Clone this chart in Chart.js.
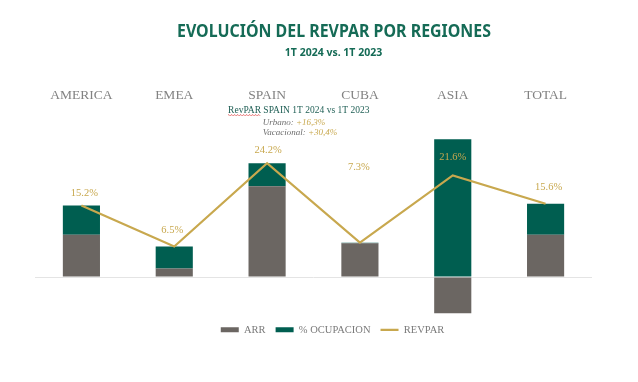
<!DOCTYPE html>
<html><head><meta charset="utf-8">
<script src="https://cdn.jsdelivr.net/npm/chart.js@4"></script>
<style>html,body{margin:0;padding:0;background:#fff}canvas{display:block}</style>
</head><body><canvas id="c" width="638" height="382"></canvas>
<script>
const categories = ['AMERICA', 'EMEA', 'SPAIN', 'CUBA', 'ASIA', 'TOTAL'];
const arrValues = [9.0, 1.8, 19.3, 7.2, -7.7, 9.0];
const occValues = [6.2, 4.7, 4.9, 0.1, 29.3, 6.6];
const revparValues = [15.2, 6.5, 24.2, 7.3, 21.6, 15.6];
const revparLabels = ['15.2%', '6.5%', '24.2%', '7.3%', '21.6%', '15.6%'];
const seriesNames = ['ARR', '% OCUPACION', 'REVPAR'];
const titleText = 'EVOLUCIÓN DEL REVPAR POR REGIONES';
const subtitleText = '1T 2024 vs. 1T 2023';
const noteTitle = 'RevPAR SPAIN 1T 2024 vs 1T 2023';
const noteLines = [['Urbano:', '+16,3%'], ['Vacacional:', '+30,4%']];

const GRAY = '#6b6662', GREEN = '#005e50', GOLD = '#c8a84e', TITLE = '#156b56';
const labelDy = [12, 16, 13, 75, 18, 16];
const labelDx = [3, -2, 1, -1, 0, 3];

function fitText(ctx, text, x, y, maxW) {
  const w = ctx.measureText(text).width;
  const sx = Math.min(1, maxW / w);
  ctx.save(); ctx.translate(x, y); ctx.scale(sx, 1); ctx.fillText(text, 0, 0); ctx.restore();
}

const decor = {
  id: 'decor',
  afterLayout(chart) { chart.legend.left += 19; chart.legend.right += 19; },
  afterDatasetsDraw(chart) {
    const ctx = chart.ctx;
    const meta = chart.getDatasetMeta(2);
    ctx.save();
    ctx.font = '10.5px "Liberation Serif"';
    ctx.fillStyle = GOLD; ctx.textAlign = 'center'; ctx.textBaseline = 'middle';
    meta.data.forEach((pt, i) => ctx.fillText(revparLabels[i], pt.x + labelDx[i], pt.y - labelDy[i]));
    ctx.restore();
  },
  afterDraw(chart) {
    const ctx = chart.ctx;
    ctx.save();
    ctx.fillStyle = TITLE; ctx.textAlign = 'center'; ctx.textBaseline = 'middle';
    ctx.font = 'bold 17px "Noto Sans"';
    fitText(ctx, titleText, 334, 32, 314);
    ctx.font = 'bold 10.5px "Noto Sans"';
    fitText(ctx, subtitleText, 333.5, 53, 107);
    // note under SPAIN
    const xs = chart.scales.x.getPixelForValue(2);
    const left = xs - 39;
    ctx.textAlign = 'left';
    ctx.font = '9.5px "Liberation Serif"';
    ctx.fillStyle = '#1e5e54';
    ctx.fillText(noteTitle, left, 110);
    const rw = ctx.measureText('RevPAR').width;
    ctx.strokeStyle = '#e05050'; ctx.lineWidth = 0.8; ctx.beginPath();
    for (let x = 0; x <= rw; x += 1) { const yy = 115 + (Math.floor(x / 1.5) % 2 ? 0.8 : -0.2); x === 0 ? ctx.moveTo(left + x, yy) : ctx.lineTo(left + x, yy); }
    ctx.stroke();
    ctx.font = 'italic 9px "Liberation Serif"';
    noteLines.forEach((ln, i) => {
      const y = 123 + i * 10;
      const lx = xs - 4.3;
      ctx.fillStyle = '#6f6f6f'; ctx.fillText(ln[0] + ' ', lx, y);
      const w = ctx.measureText(ln[0] + ' ').width;
      ctx.fillStyle = GOLD; ctx.fillText(ln[1], lx + w, y);
    });
    ctx.restore();
  }
};

new Chart(document.getElementById('c'), {
  data: {
    labels: categories,
    datasets: [
      { type: 'bar', label: seriesNames[0], data: arrValues, backgroundColor: GRAY, stack: 'a', order: 2, borderWidth: 0 },
      { type: 'bar', label: seriesNames[1], data: occValues, backgroundColor: GREEN, stack: 'a', order: 3, borderWidth: 0 },
      { type: 'line', label: seriesNames[2], data: revparValues, borderColor: GOLD, backgroundColor: GOLD, borderWidth: 2.2, pointRadius: 0, tension: 0, stack: 'line', order: 1 }
    ]
  },
  options: {
    responsive: false,
    animation: false,
    devicePixelRatio: 1,
    layout: { padding: { left: 35, right: 46, top: 80, bottom: 36.9 } },
    datasets: { bar: { barPercentage: 0.4, categoryPercentage: 1 } },
    scales: {
      x: {
        position: 'top', stacked: true,
        grid: { display: false, drawTicks: false }, border: { display: false },
        ticks: { color: '#828282', font: { family: '"Liberation Serif"', size: 13.5 }, padding: 9 },
        afterFit(s) { s.height = 32.5; }
      },
      y: {
        stacked: true, min: -8, max: 35,
        ticks: { display: false },
        border: { display: false },
        grid: { drawTicks: false, color: '#e4e4e4', lineWidth: 1 },
        afterBuildTicks(s) { s.ticks = [{ value: 0 }]; }
      }
    },
    plugins: {
      tooltip: { enabled: false },
      title: { display: false },
      legend: {
        position: 'bottom',
        labels: {
          usePointStyle: true, pointStyleWidth: 18, boxHeight: 5, padding: 10,
          color: '#7a7a7a', font: { family: '"Liberation Serif"', size: 10.5 },
          sort: (a, b) => a.datasetIndex - b.datasetIndex,
          generateLabels(chart) {
            const items = Chart.defaults.plugins.legend.labels.generateLabels(chart);
            items.forEach(it => { it.pointStyle = chart.data.datasets[it.datasetIndex].type === 'line' ? 'line' : 'rect'; });
            return items;
          }
        }
      }
    }
  },
  plugins: [decor]
});
</script>
</body></html>
